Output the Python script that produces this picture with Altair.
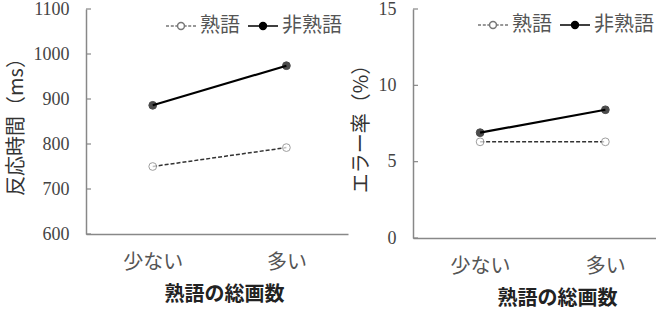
import altair as alt
import pandas as pd

categories = ["少ない", "多い"]
series = ["熟語", "非熟語"]
rt_jukugo = [750, 792]
rt_hijukugo = [886, 974]
err_jukugo = [6.3, 6.3]
err_hijukugo = [6.9, 8.4]
rt_ticks = [600, 700, 800, 900, 1000, 1100]
err_ticks = [0, 5, 10, 15]

JP = "Noto Sans CJK JP"
SERIF = "Liberation Serif"

R = 0.23
circ = f"M{R},0A{R},{R},0,1,1,-{R},0A{R},{R},0,1,1,{R},0Z"
path_dash = "M-1,0H-0.8M-0.68,0H-0.48M-0.38,0H-0.23M0.23,0H0.38M0.48,0H0.68M0.8,0H1" + circ
path_solid = f"M-1,0H-{R}M{R},0H1" + circ


def make_df(a, b):
    rows = []
    for c, v in zip(categories, a):
        rows.append({"cat": c, "series": series[0], "value": v})
    for c, v in zip(categories, b):
        rows.append({"cat": c, "series": series[1], "value": v})
    return pd.DataFrame(rows)


def panel(df, ticks, ytitle, width, height, pad, align, legx, legy, titlex):
    y = alt.Y("value:Q",
              scale=alt.Scale(domain=[ticks[0], ticks[-1]], nice=False, zero=False),
              axis=alt.Axis(values=ticks, format="d", title=ytitle, ticks=False, labelPadding=17,
                            titlePadding=7, grid=False))
    x = alt.X("cat:N", sort=categories,
              scale=alt.Scale(type="point", padding=pad, align=align),
              axis=alt.Axis(labelAngle=0, ticks=False, labelPadding=18, title="熟語の総画数",
                            titlePadding=12, titleX=titlex))
    legend = alt.Legend(
        title=None, orient="none", legendX=legx, legendY=legy,
        direction="horizontal", symbolSize=900, symbolOpacity=1,
        labelFont=JP, labelFontSize=20, labelColor="#555", labelOffset=3,
        columnPadding=5, symbolStrokeWidth=1.5, symbolStrokeColor="#222")
    fill = alt.Fill("series:N", sort=series,
                    scale=alt.Scale(domain=series, range=["white", "black"]),
                    legend=legend)
    tick_df = pd.DataFrame({"value": ticks})
    tick_layer = alt.Chart(tick_df).mark_rule(color="#888", strokeWidth=1.2).encode(
        y=y, x=alt.value(0), x2=alt.value(5))
    base = alt.Chart(df)
    l1 = base.transform_filter(alt.datum.series == series[0]).mark_line(
        color="#333", strokeWidth=1.5, strokeDash=[4, 2]).encode(x=x, y=y)
    l2 = base.transform_filter(alt.datum.series == series[1]).mark_line(
        color="#000", strokeWidth=2.2).encode(x=x, y=y)
    leg_layer = base.mark_point(filled=True, opacity=0).encode(
        x=x, y=y, fill=fill,
        shape=alt.Shape("series:N", sort=series,
                        scale=alt.Scale(domain=series, range=[path_dash, path_solid]),
                        legend=legend))
    pts = base.mark_point(filled=True, size=60, strokeWidth=1).encode(
        x=x, y=y, fill=fill,
        stroke=alt.Stroke("series:N", scale=alt.Scale(domain=series, range=["#777", "#000"]),
                          legend=None),
    )
    return alt.layer(tick_layer, l1, l2, leg_layer, pts).properties(width=width, height=height)


left = panel(make_df(rt_jukugo, rt_hijukugo), rt_ticks, "反応時間（ms）", 262, 225,
             0.48, 0.52, 79, 1, 138)
right = panel(make_df(err_jukugo, err_hijukugo), err_ticks, "エラー率（%）", 243, 229,
              0.47, 0.57, 64, 0, 144)

chart = alt.hconcat(left, right, spacing=3).resolve_scale(
    y="independent", fill="independent", stroke="independent", shape="independent"
).resolve_legend(fill="independent", shape="independent").properties(
    padding={"left": 6, "top": 0, "right": 0, "bottom": 4},
    background="white",
).configure_view(stroke=None).configure_axis(
    domainColor="#888", domainWidth=1.5,
    labelFont=SERIF, labelFontSize=18, labelColor="#444",
    titleFont=JP, titleFontSize=20, titleColor="#333", titleFontWeight="normal",
).configure_axisX(
    labelFont=JP, labelFontSize=20, labelColor="#555",
    titleFontSize=20, titleFontWeight="bold", titleColor="#222",
)

chart.save("out.html", embed_options={"renderer": "svg", "actions": False})
